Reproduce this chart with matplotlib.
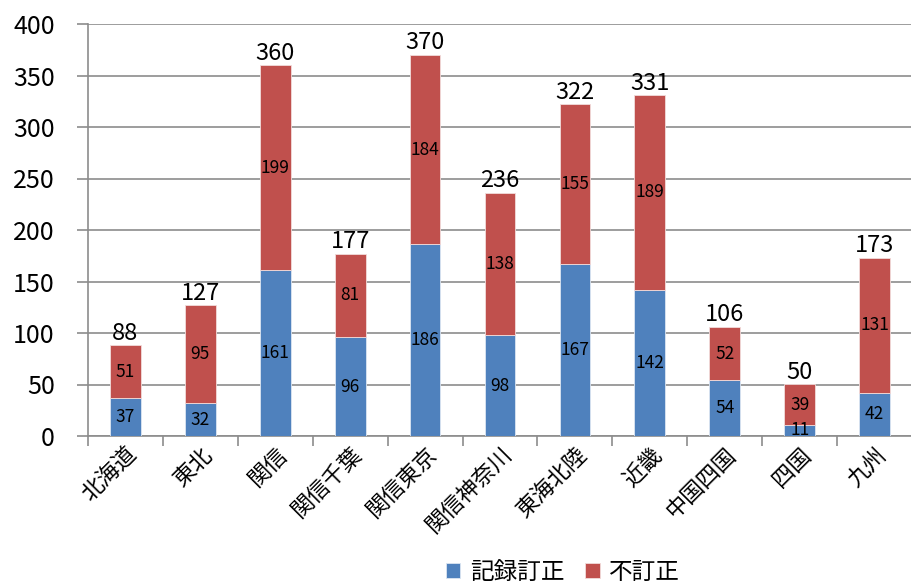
import matplotlib
matplotlib.use("Agg")
import matplotlib.pyplot as plt
import matplotlib.patheffects as pe
import numpy as np

plt.rcParams['font.family'] = ['Noto Sans CJK JP', 'DejaVu Sans']

categories = ["北海道", "東北", "関信", "関信千葉", "関信東京", "関信神奈川",
              "東海北陸", "近畿", "中国四国", "四国", "九州"]
kiroku = [37, 32, 161, 96, 186, 98, 167, 142, 54, 11, 42]
futeisei = [51, 95, 199, 81, 184, 138, 155, 189, 52, 39, 131]
series_names = ["記録訂正", "不訂正"]
yticks = [0, 50, 100, 150, 200, 250, 300, 350, 400]
title_text = "● 各種登記の処理状況（平成25年度）"

blue = "#4F81BD"
red = "#C0504D"
grid_c = "#8C8C8C"
title_c = "#1F4E8C"

W, H = 912, 582
fig = plt.figure(figsize=(W/100, H/100), dpi=100)
ax = fig.add_axes([88/W, 146/H, 1 - 88/W, (436-24)/H])

x = np.arange(len(categories))
w = 0.41
b1 = ax.bar(x, kiroku, w, color=blue, edgecolor="#DCE6F2", linewidth=0.6, label=series_names[0], zorder=3)
b2 = ax.bar(x, futeisei, w, bottom=kiroku, color=red, edgecolor="#F2DCDB", linewidth=0.6, label=series_names[1], zorder=3)

for i in range(len(categories)):
    k = kiroku[i]; f = futeisei[i]
    ax.text(x[i], k/2, str(k), ha="center", va="center", fontsize=12.5, zorder=4)
    ax.text(x[i], k + f/2, str(f), ha="center", va="center", fontsize=12.5, zorder=4)
    ax.text(x[i], k + f + 0.5, str(k + f), ha="center", va="bottom", fontsize=17, zorder=4)

ax.set_xlim(-0.5, len(categories) - 0.5)
ax.set_ylim(0, 400)
ax.set_yticks(yticks)
ax.set_yticklabels([str(v) for v in yticks], fontsize=18)
ax.yaxis.grid(True, color=grid_c, linewidth=1.2, zorder=0)
ax.set_axisbelow(True)

ax.set_xticks(x)
ax.set_xticklabels(categories, rotation=45, ha="right", rotation_mode="anchor", fontsize=16)
ax.set_xticks(np.arange(-0.5, len(categories), 1), minor=True)
ax.tick_params(axis="x", which="major", length=0, pad=5)
ax.tick_params(axis="x", which="minor", length=7, color=grid_c, width=1.2)
ax.tick_params(axis="y", length=8, color=grid_c, width=1.2, pad=16)

for s in ["top", "right"]:
    ax.spines[s].set_visible(False)
for s in ["left", "bottom"]:
    ax.spines[s].set_color(grid_c)
    ax.spines[s].set_linewidth(1.2)

leg = fig.legend(handles=[b1, b2], labels=series_names, loc="center",
                 bbox_to_anchor=(563/W, 1 - 572/H), ncol=2, frameon=False,
                 fontsize=17, handlelength=0.6, handleheight=0.6, handletextpad=0.4,
                 columnspacing=0.9)

# title cropped at the top edge: only the bottom of the glyphs is visible
fig.text(22/W, 1 + 18/H, title_text, fontsize=40, fontweight="bold",
         family="Noto Sans CJK JP", color=title_c, ha="left", va="baseline",
         path_effects=[pe.Normal()])

fig.savefig("out.png", dpi=100)
